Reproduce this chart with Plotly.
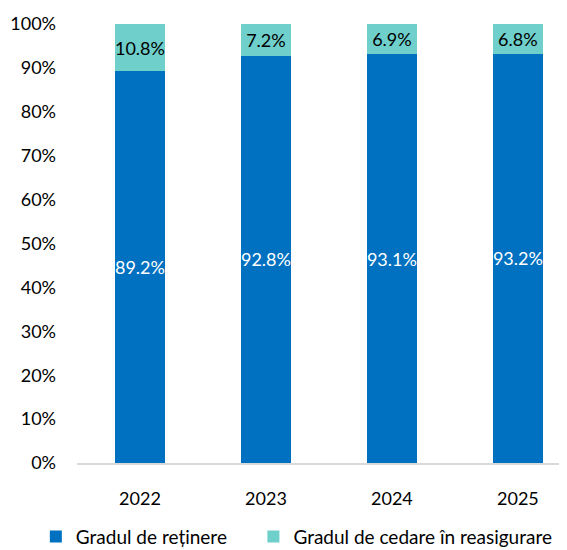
import plotly.graph_objects as go

years = ["2022", "2023", "2024", "2025"]
retinere = [89.2, 92.8, 93.1, 93.2]
cedare = [10.8, 7.2, 6.9, 6.8]
tick_vals = [0, 10, 20, 30, 40, 50, 60, 70, 80, 90, 100]
tick_text = [f"{v}%" for v in tick_vals]

FONT = "Lato, Noto Sans, sans-serif"
FS = 18
LFS = 19

fig = go.Figure()
fig.add_trace(go.Bar(
    x=years, y=retinere, name="Gradul de reținere",
    marker=dict(color="#0070C0", line=dict(width=0)),
    text=[f"{v:.1f}%" for v in retinere], textposition="inside",
    insidetextanchor="middle", textangle=0, constraintext="none",
    textfont=dict(color="white", size=FS, family=FONT),
    legend="legend",
))
fig.add_trace(go.Bar(
    x=years, y=cedare, name="Gradul de cedare în reasigurare",
    marker=dict(color="#6ECFCB", line=dict(width=0)),
    text=[f"{v:.1f}%" for v in cedare], textposition="inside",
    insidetextanchor="middle", textangle=0, constraintext="none",
    textfont=dict(color="black", size=FS, family=FONT),
    legend="legend2",
))

leg_common = dict(orientation="h", xanchor="left", y=-0.168, yanchor="middle",
                  font=dict(size=LFS), itemwidth=30, bgcolor="rgba(0,0,0,0)")

fig.update_layout(
    barmode="stack",
    bargap=0.6,
    width=559, height=542,
    margin=dict(l=69, r=0, t=16, b=87, autoexpand=False),
    paper_bgcolor="white", plot_bgcolor="white",
    font=dict(family=FONT, size=FS, color="black"),
    showlegend=True,
    legend=dict(x=-0.084, **leg_common),
    legend2=dict(x=0.36, **leg_common),
    uniformtext=dict(mode=False),
)
fig.update_xaxes(range=[-0.5, 3.39], showline=True, linecolor="#D9D9D9",
                 linewidth=2, ticks="", showgrid=False, ticklabelstandoff=18,
                 automargin=False, tickfont=dict(size=FS))
fig.update_yaxes(range=[0, 100], tickvals=tick_vals, ticktext=tick_text,
                 showgrid=False, zeroline=False, showline=False, ticks="",
                 automargin=False, ticklabelstandoff=20, tickfont=dict(size=FS))

fig.write_html("out.html")
